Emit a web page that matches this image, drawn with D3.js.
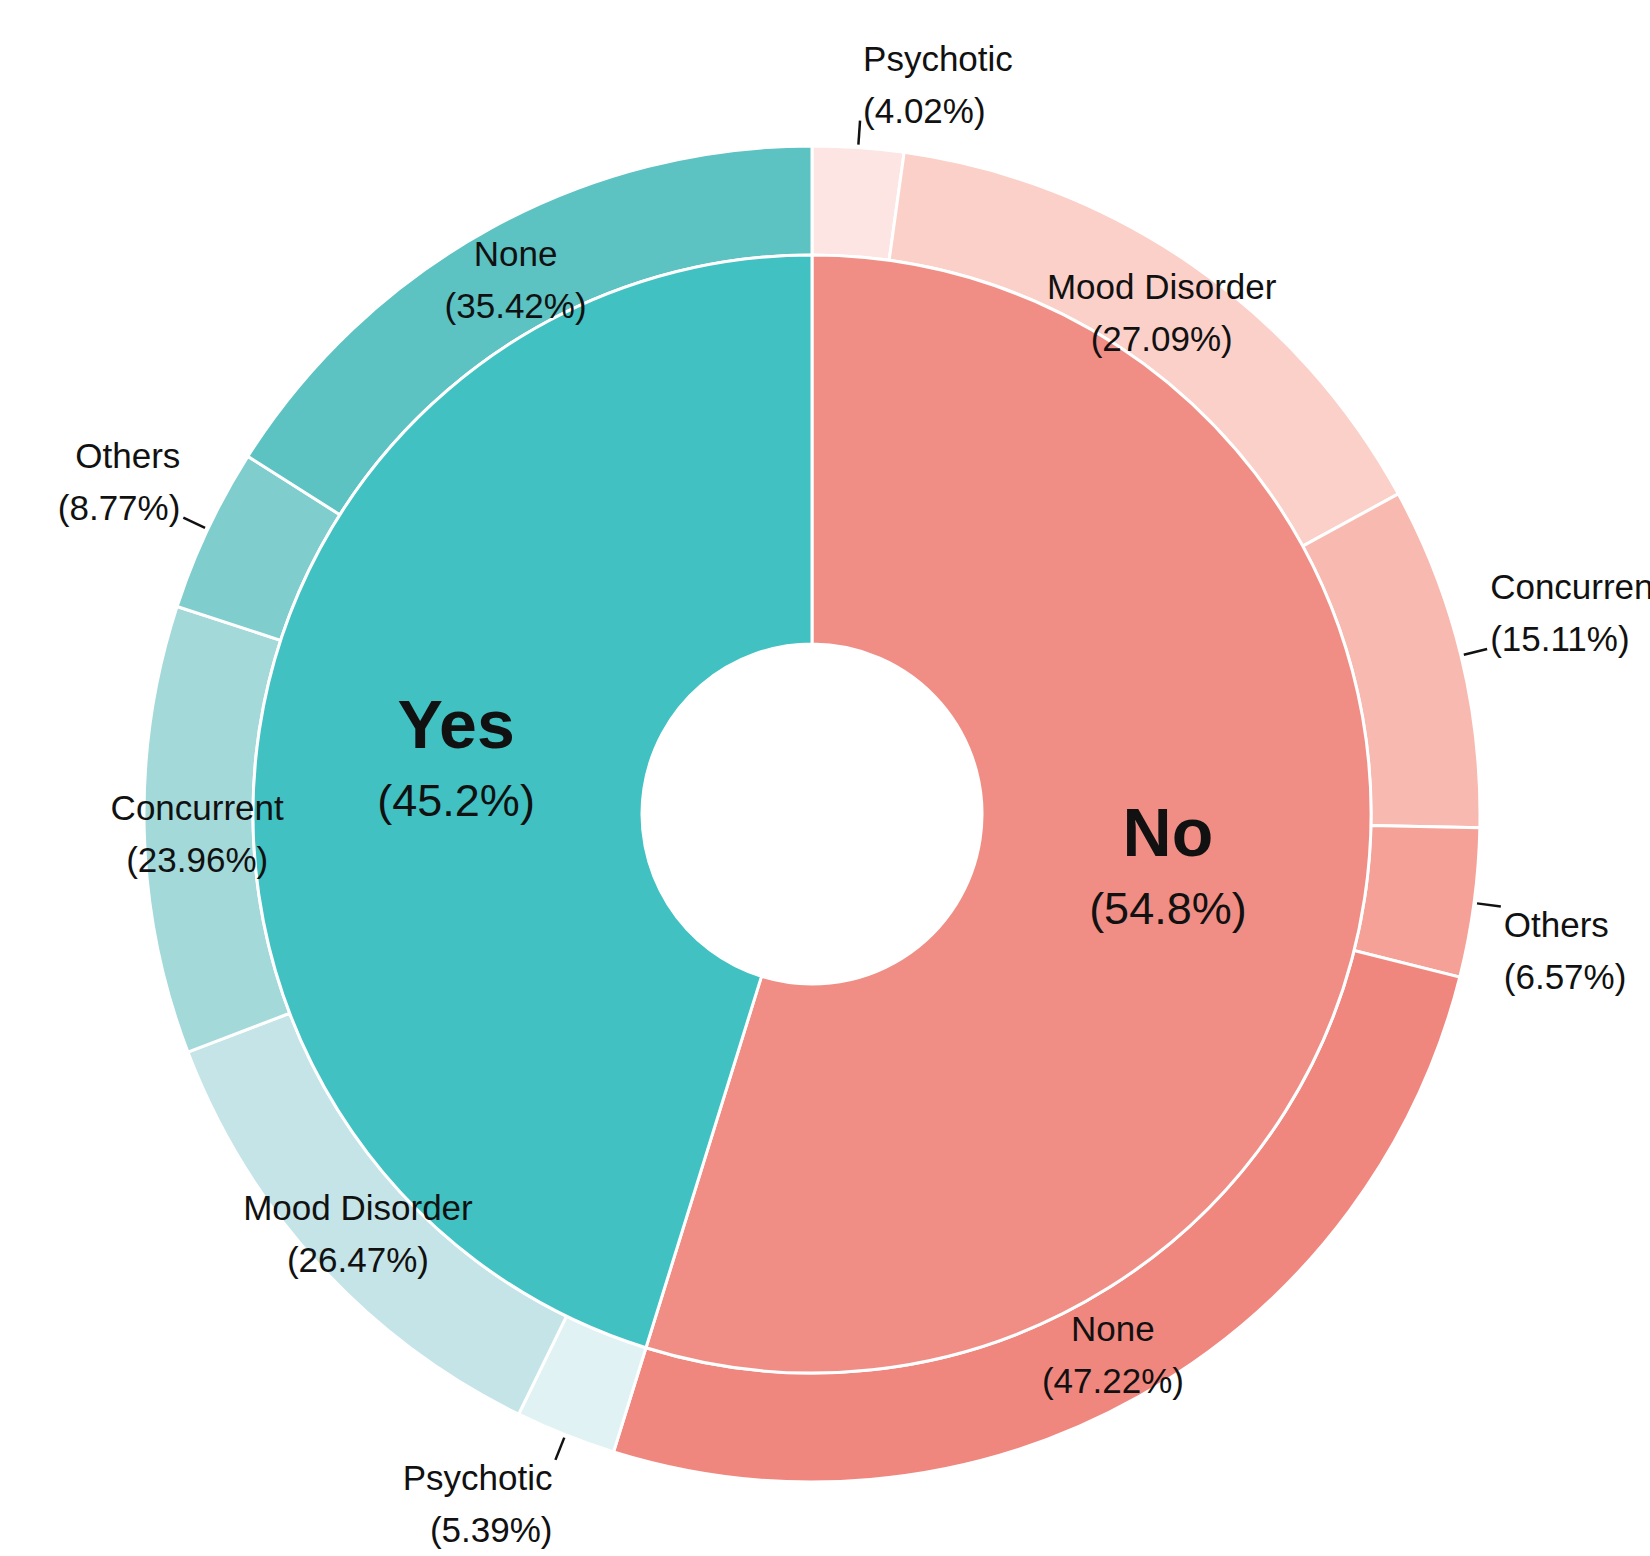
<!DOCTYPE html>
<html>
<head>
<meta charset="utf-8">
<script src="https://cdn.jsdelivr.net/npm/d3@7"></script>
<style>
  body { margin: 0; background: #fff; }
  svg { display: block; }
  text { font-family: "Liberation Sans", Arial, sans-serif; fill: #111; }
</style>
</head>
<body>
<div id="chart"></div>
<script>
// inner ring: answer groups
const groups = ["No", "Yes"];
const groupPct = [54.8, 45.2];
const groupColors = ["#F08E86", "#41C1C2"];

// outer ring: diagnosis within each group (percent of group)
const diagnoses = ["Psychotic", "Mood Disorder", "Concurrent", "Others", "None"];
const noPct = [4.02, 27.09, 15.11, 6.57, 47.22];
const yesPct = [5.39, 26.47, 23.96, 8.77, 35.42];
const noColors = ["#FDE5E3", "#FBD0C9", "#F8B9B1", "#F5A197", "#F0877F"];
const yesColors = ["#E0F2F3", "#C4E4E7", "#A4D9DA", "#80CDCE", "#5CC2C2"];

drawChart()

function drawChart() {
    var width = 1650,
        height = 1556,
        cx = 812,
        cy = 814;

    var rHole = 170,
        rInner = 559,
        rOuter = 668;

    var svg = d3.select("#chart")
        .append("svg")
        .attr("width", width)
        .attr("height", height)
        .append("g")
        .attr("transform", "translate(" + cx + "," + cy + ")");

    var innerData = groups.map(function (g, i) {
        return { name: g, pct: groupPct[i], color: groupColors[i] };
    });

    var pie = d3.pie().sort(null).value(function (d) { return d.pct; });
    var innerArcs = pie(innerData);

    var innerArc = d3.arc().innerRadius(rHole).outerRadius(rInner);
    var outerArc = d3.arc().innerRadius(rInner).outerRadius(rOuter);

    // build outer slices inside each group's angle span
    var subPct = { No: noPct, Yes: yesPct };
    var subColors = { No: noColors, Yes: yesColors };
    var outerArcs = [];
    innerArcs.forEach(function (g) {
        var sub = diagnoses.map(function (name, i) {
            return {
                name: name,
                pct: subPct[g.data.name][i],
                share: subPct[g.data.name][i] * g.data.pct / 100,
                color: subColors[g.data.name][i]
            };
        });
        var subPie = d3.pie().sort(null)
            .startAngle(g.startAngle)
            .endAngle(g.endAngle)
            .value(function (d) { return d.pct; });
        outerArcs = outerArcs.concat(subPie(sub));
    });

    // slices
    svg.selectAll("path.outer")
        .data(outerArcs)
        .enter()
        .append("path")
        .attr("class", "outer")
        .attr("d", outerArc)
        .attr("fill", function (d) { return d.data.color; })
        .attr("stroke", "#fff")
        .attr("stroke-width", 3);

    svg.selectAll("path.inner")
        .data(innerArcs)
        .enter()
        .append("path")
        .attr("class", "inner")
        .attr("d", innerArc)
        .attr("fill", function (d) { return d.data.color; })
        .attr("stroke", "#fff")
        .attr("stroke-width", 3);

    // inner labels
    var innerLabelArc = d3.arc().innerRadius(360).outerRadius(360);
    innerArcs.forEach(function (d) {
        var c = innerLabelArc.centroid(d);
        var t = svg.append("text")
            .attr("text-anchor", "middle")
            .attr("transform", "translate(" + c[0] + "," + c[1] + ")");
        t.append("tspan")
            .attr("x", 0).attr("y", -12)
            .style("font-size", "68px")
            .style("font-weight", "bold")
            .text(d.data.name);
        t.append("tspan")
            .attr("x", 0).attr("y", 56)
            .style("font-size", "45px")
            .text("(" + d.data.pct + "%)");
    });

    // outer labels
    var midLabelArc = d3.arc().innerRadius(615).outerRadius(615);
    var lineStart = 671, lineEnd = 695;
    var fs = 35, lh = 52;

    outerArcs.forEach(function (d) {
        var pctText = "(" + d.data.pct.toFixed(2) + "%)";
        if (d.data.share >= 10) {
            var c = midLabelArc.centroid(d);
            var t = svg.append("text")
                .attr("text-anchor", "middle")
                .style("font-size", fs + "px")
                .attr("transform", "translate(" + c[0] + "," + c[1] + ")");
            t.append("tspan").attr("x", 0).attr("y", -9).text(d.data.name);
            t.append("tspan").attr("x", 0).attr("y", -9 + lh).text(pctText);
        } else {
            var a = (d.startAngle + d.endAngle) / 2;
            var x0 = Math.sin(a) * lineStart, y0 = -Math.cos(a) * lineStart;
            var x1 = Math.sin(a) * lineEnd, y1 = -Math.cos(a) * lineEnd;
            svg.append("line")
                .attr("x1", x0).attr("y1", y0)
                .attr("x2", x1).attr("y2", y1)
                .attr("stroke", "#111")
                .attr("stroke-width", 2.5);
            var right = x1 >= 0;
            var tx = x1 + (right ? 3 : -3);
            var firstY = y1 < 0 ? y1 + 2 - lh : y1 + 30;
            var t2 = svg.append("text")
                .attr("text-anchor", right ? "start" : "end")
                .style("font-size", fs + "px");
            t2.append("tspan").attr("x", tx).attr("y", firstY).text(d.data.name);
            t2.append("tspan").attr("x", tx).attr("y", firstY + lh).text(pctText);
        }
    });
}
</script>
</body>
</html>
